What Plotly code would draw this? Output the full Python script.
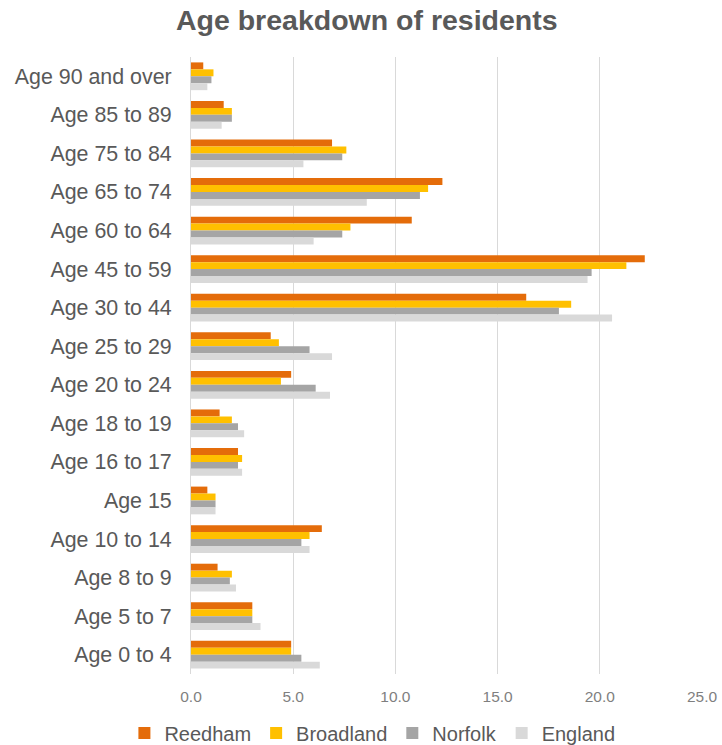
import plotly.graph_objects as go

categories = ["Age 90 and over", "Age 85 to 89", "Age 75 to 84", "Age 65 to 74",
              "Age 60 to 64", "Age 45 to 59", "Age 30 to 44", "Age 25 to 29",
              "Age 20 to 24", "Age 18 to 19", "Age 16 to 17", "Age 15",
              "Age 10 to 14", "Age 8 to 9", "Age 5 to 7", "Age 0 to 4"]

reedham   = [0.6, 1.6, 6.9, 12.3, 10.8, 22.2, 16.4, 3.9, 4.9, 1.4, 2.3, 0.8, 6.4, 1.3, 3.0, 4.9]
broadland = [1.1, 2.0, 7.6, 11.6, 7.8, 21.3, 18.6, 4.3, 4.4, 2.0, 2.5, 1.2, 5.8, 2.0, 3.0, 4.9]
norfolk   = [1.0, 2.0, 7.4, 11.2, 7.4, 19.6, 18.0, 5.8, 6.1, 2.3, 2.3, 1.2, 5.4, 1.9, 3.0, 5.4]
england   = [0.8, 1.5, 5.5, 8.6, 6.0, 19.4, 20.6, 6.9, 6.8, 2.6, 2.5, 1.2, 5.8, 2.2, 3.4, 6.3]

series_names = ["Reedham", "Broadland", "Norfolk", "England"]
series_values = [reedham, broadland, norfolk, england]
series_colors = ["#E46C0A", "#FFC000", "#A5A5A5", "#D9D9D9"]

x_ticks = [0, 5, 10, 15, 20, 25]
x_tick_labels = ["0.0", "5.0", "10.0", "15.0", "20.0", "25.0"]

fig = go.Figure()
for name, vals, col in zip(series_names, series_values, series_colors):
    fig.add_trace(go.Bar(y=categories, x=vals, name=name, orientation="h",
                         marker=dict(color=col, line=dict(width=0))))

font_family = "Liberation Sans, Arial, sans-serif"
fig.update_layout(
    width=722, height=745,
    margin=dict(l=191, r=20, t=57, b=71, autoexpand=False),
    paper_bgcolor="white", plot_bgcolor="white",
    barmode="group", bargap=0.28, bargroupgap=0,
    title=dict(text="<b>Age breakdown of residents</b>", x=0.508, xanchor="center",
               y=1 - 20 / 745, yanchor="middle",
               font=dict(family=font_family, size=28.5, color="#595959")),
    xaxis=dict(range=[0, 25], tickvals=x_ticks, ticktext=x_tick_labels,
               showgrid=True, gridcolor="#D9D9D9", gridwidth=1,
               zeroline=False, showline=False, ticks="",
               tickfont=dict(family=font_family, size=15.5, color="#7F7F7F"),
               ticklabelstandoff=11),
    yaxis=dict(categoryorder="array", categoryarray=categories, autorange="reversed",
               showline=True, linecolor="#D9D9D9", linewidth=1, ticks="",
               showgrid=False,
               tickfont=dict(family=font_family, size=21.4, color="#595959"),
               ticklabelstandoff=14),
    legend=dict(orientation="h", x=0.355, xanchor="center", y=-0.0956, yanchor="middle",
                font=dict(family=font_family, size=20, color="#595959"),
                traceorder="normal"),
)
fig.write_html("out.html")
